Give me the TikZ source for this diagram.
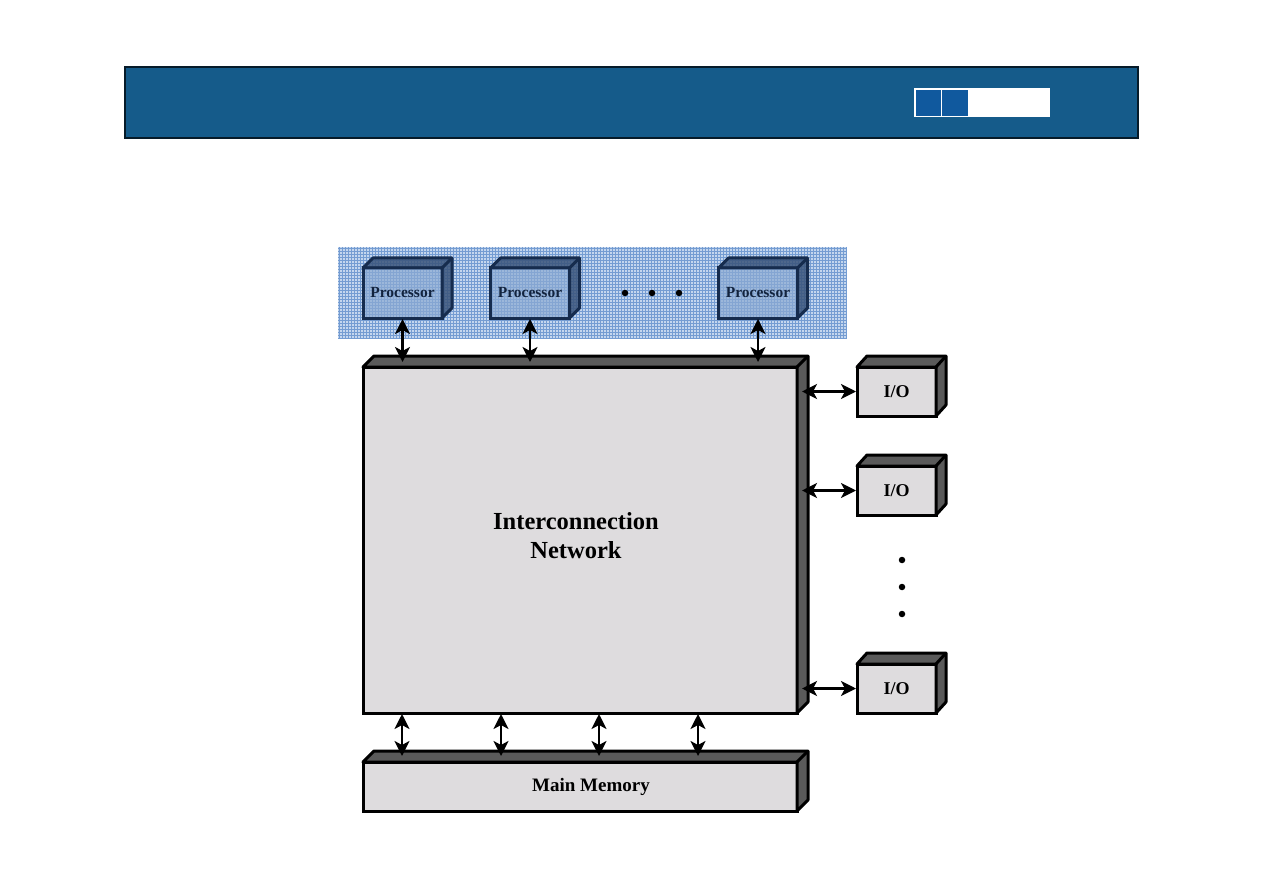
\documentclass[tikz,border=0pt]{standalone}
\usepackage{fontspec}
\setmainfont{Liberation Serif}
\usetikzlibrary{arrows.meta,calc}
\definecolor{hdr}{RGB}{21,91,138}
\definecolor{hdrsq}{RGB}{16,89,158}
\definecolor{gridbg}{RGB}{196,214,238}
\definecolor{gridln}{RGB}{116,156,210}
\definecolor{procfront}{RGB}{140,170,210}
\definecolor{procside}{RGB}{58,84,122}
\definecolor{procline}{RGB}{22,44,78}
\definecolor{boxfront}{RGB}{222,220,222}
\definecolor{boxside}{RGB}{90,90,90}
\tikzset{
  procbox/.style={draw=procline, fill=procfront, fill opacity=0.7, text opacity=1, line width=3pt, outer sep=0pt, inner sep=0pt,
    minimum width=79pt, minimum height=50pt, font=\fontsize{15.5}{16}\selectfont\bfseries, text=procline!80!black},
  graybox/.style={draw=black, fill=boxfront, line width=3pt, outer sep=0pt, inner sep=0pt},
  iobox/.style={graybox, minimum width=79pt, minimum height=49pt, font=\fontsize{18}{20}\selectfont\bfseries},
  dar/.style={{Stealth[length=15pt,width=15pt,inset=4pt]}-{Stealth[length=15pt,width=15pt,inset=4pt]}, line width=2.6pt, black},
  dotmark/.style={circle, fill=black, inner sep=0pt, minimum size=6.5pt},
}
% #1 node name, #2 dx, #3 dy(up), #4 fill, #5 draw colour, #6 line width
\newcommand\boxthreed[6]{%
  \filldraw[fill=#4, draw=#5, line width=#6, line join=round]
    (#1.north west) -- ++(#2,-#3) -- ([shift={(#2,-#3)}]#1.north east)
    -- ([shift={(#2,-#3)}]#1.south east) -- (#1.south east) -- (#1.north east) -- cycle;
  \draw[draw=#5, line width=#6] (#1.north east) -- ++(#2,-#3);
}
\begin{document}
\begin{tikzpicture}[x=1pt,y=-1pt]
\useasboundingbox (0,0) rectangle (1263,893);
\fill[white] (0,0) rectangle (1263,893);
% header
\filldraw[fill=hdr, draw=black!70!hdr, line width=1.2pt] (125,67) rectangle (1138,138);
\fill[white] (914,88) rectangle (1050,117);
\fill[hdrsq] (915.5,90) rectangle (940.5,116);
\fill[hdrsq] (942,90) rectangle (967.5,116);
% processor area background with grid
\fill[gridbg] (338,247) rectangle (847,338);
\begin{scope}
\clip (338,247) rectangle (847,338);
\foreach \x in {339,342,...,847}{\draw[gridln, line width=0.8pt] (\x,247) -- (\x,338);}
\foreach \y in {248,251,...,338}{\draw[gridln, line width=0.8pt] (338,\y) -- (847,\y);}
\end{scope}
% processors
\node[procbox] (p1) at (402.5,293) {Processor};
\node[procbox] (p2) at (530,293) {Processor};
\node[procbox] (p3) at (758,293) {Processor};
\foreach \p in {p1,p2,p3}{\begin{scope}[fill opacity=0.85]\boxthreed{\p}{10}{10}{procside}{procline}{3pt}\end{scope}}
\node[dotmark] (d1) at (625,293) {};
\node[dotmark] (d2) at (652,293) {};
\node[dotmark] (d3) at (679,293) {};
% interconnection network
\node[graybox, minimum width=434pt, minimum height=346pt] (net) at (580,540) {};
\boxthreed{net}{11}{11}{boxside}{black}{3pt}
\node[font=\fontsize{24.5}{29}\selectfont\bfseries, align=center] (nettxt) at (576,536) {Interconnection\\Network};
% I/O boxes
\node[iobox] (io1) at (896.5,391.5) {I/O};
\node[iobox] (io2) at (896.5,490.5) {I/O};
\node[iobox] (io3) at (896.5,688.5) {I/O};
\foreach \p in {io1,io2,io3}{\boxthreed{\p}{10}{11}{boxside}{black}{3pt}}
\node[dotmark] (v1) at (902,560) {};
\node[dotmark] (v2) at (902,587) {};
\node[dotmark] (v3) at (902,614) {};
% main memory
\node[graybox, minimum width=434pt, minimum height=49pt] (mem) at (580,786.5) {};
\boxthreed{mem}{11}{11}{boxside}{black}{3pt}
\node[font=\fontsize{19}{21}\selectfont\bfseries] (memtxt) at (591,786.5) {Main Memory};
% arrows processors <-> network
\foreach \p in {p1,p2,p3}{\draw[dar] ([yshift=-1pt]\p.south) -- ([yshift=5pt]\p.south |- net.north);}
% arrows network <-> I/O
\foreach \p in {io1,io2,io3}{\draw[dar] ([xshift=5pt]\p.west -| net.east) -- ([xshift=-1pt]\p.west);}
% arrows network <-> memory
\coordinate (m1) at (402,713);
\coordinate (m2) at (501,713);
\coordinate (m3) at (599,713);
\coordinate (m4) at (698,713);
\foreach \m in {m1,m2,m3,m4}{\draw[dar] ([yshift=-1pt]\m |- net.south) -- ([yshift=6pt]\m |- mem.north);}
\end{tikzpicture}
\end{document}
